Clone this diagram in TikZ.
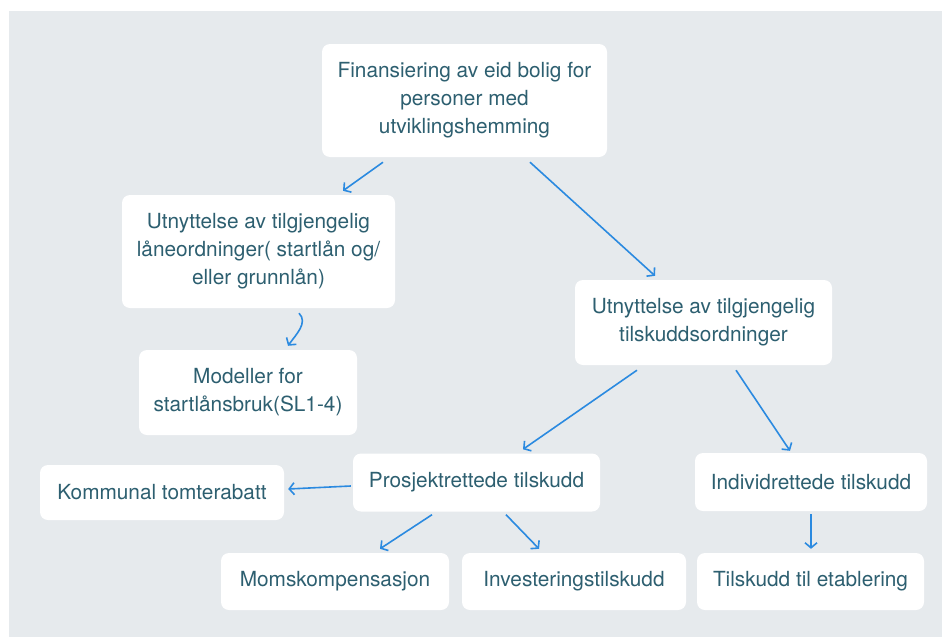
\documentclass[tikz,border=0pt]{standalone}
\usepackage{fontspec}
\setmainfont{TeX Gyre Heros}
\usetikzlibrary{arrows.meta}
\definecolor{panel}{HTML}{E6EAED}
\definecolor{txt}{HTML}{2D5F70}
\definecolor{arrowblue}{HTML}{2B8AE0}
\begin{document}
\begin{tikzpicture}[x=1pt, y=-1pt,
    box/.style = {fill=white, rounded corners=8pt, inner sep=0pt, align=center,
        text=txt, font=\fontsize{20.8}{28}\selectfont},
    arr/.style = {draw=arrowblue, line width=1.6pt, -{Straight Barb[length=5pt, width=12pt]}}]
        \useasboundingbox (0, 0) rectangle (942, 637);
        \fill [white] (0, 0) rectangle (942, 637);
        \fill [panel] (9, 11) rectangle (942, 637);
        % boxes
        \node [box, minimum width=285pt, minimum height=113pt] (finans) at (464.5, 100.5)
            {Finansiering av eid bolig for\\personer med\\utviklingshemming};
        \node [box, minimum width=273pt, minimum height=113pt] (laan) at (258.5, 251.5)
            {Utnyttelse av tilgjengelig\\låneordninger( startlån og/\\eller grunnlån)};
        \node [box, minimum width=218pt, minimum height=85pt] (modell) at (248, 392.5)
            {Modeller for\\startlånsbruk(SL1-4)};
        \node [box, minimum width=257pt, minimum height=85pt] (tilskudd) at (703.5, 322.5)
            {Utnyttelse av tilgjengelig\\tilskuddsordninger};
        \node [box, minimum width=247pt, minimum height=58pt] (prosjekt) at (476.5, 482.5)
            {Prosjektrettede tilskudd};
        \node [box, minimum width=232pt, minimum height=58pt] (individ) at (811, 482)
            {Individrettede tilskudd};
        \node [box, minimum width=244pt, minimum height=55pt] (tomt) at (162, 492.5)
            {Kommunal tomterabatt};
        \node [box, minimum width=228pt, minimum height=57pt] (moms) at (335, 581.5)
            {Momskompensasjon};
        \node [box, minimum width=224pt, minimum height=57pt] (invest) at (574, 581.5)
            {Investeringstilskudd};
        \node [box, minimum width=227pt, minimum height=57pt] (etabl) at (810.5, 581.5)
            {Tilskudd til etablering};
        % arrows
        \draw [arr] ([xshift=-81.5pt, yshift=-5pt]finans.south) -- ([xshift=84.5pt, yshift=4pt]laan.north);
        \draw [arr] ([xshift=65.5pt, yshift=-5pt]finans.south) -- ([xshift=-48.5pt, yshift=4pt]tilskudd.north);
        \draw [arr] ([xshift=40.5pt, yshift=-5pt]laan.south) to [out=-45, in=55] ([xshift=40pt, yshift=4pt]modell.north);
        \draw [arr] ([xshift=-66.5pt, yshift=-5pt]tilskudd.south) -- ([xshift=46.5pt, yshift=4pt]prosjekt.north);
        \draw [arr] ([xshift=32.5pt, yshift=-5pt]tilskudd.south) -- ([xshift=-21pt, yshift=2pt]individ.north);
        \draw [arr] ([xshift=-2pt, yshift=-3.5pt]prosjekt.west) -- ([xshift=4pt, yshift=3.5pt]tomt.east);
        \draw [arr] ([xshift=-44.5pt, yshift=-3pt]prosjekt.south) -- ([xshift=45pt, yshift=4pt]moms.north);
        \draw [arr] ([xshift=29.5pt, yshift=-3pt]prosjekt.south) -- ([xshift=-35pt, yshift=4pt]invest.north);
        \draw [arr] ([yshift=-3pt]individ.south) -- ([xshift=0.5pt, yshift=4pt]etabl.north);
\end{tikzpicture}
\end{document}
